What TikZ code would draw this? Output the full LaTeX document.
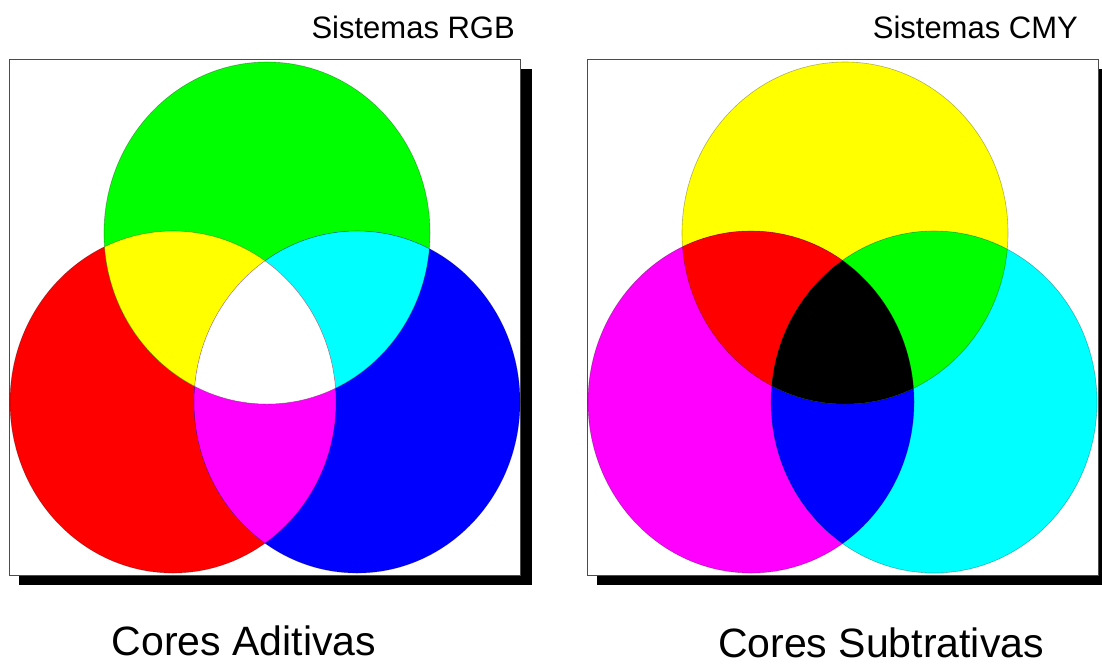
\documentclass[tikz,border=0pt]{standalone}
\usepackage{fontspec}
\setmainfont{Liberation Sans}
\usepackage{tikz}

% pure screen colours
\definecolor{pred}{RGB}{255,0,0}
\definecolor{pgreen}{RGB}{0,255,0}
\definecolor{pblue}{RGB}{0,0,255}
\definecolor{pcyan}{RGB}{0,255,255}
\definecolor{pmagenta}{RGB}{255,0,255}
\definecolor{pyellow}{RGB}{255,255,0}

\begin{document}
\begin{tikzpicture}[
  x=1pt, y=-1pt,
  frame/.style={draw=black!70, line width=1pt, fill=white},
  shadow/.style={fill=black},
  disc/.style={draw=black, draw opacity=0.3, line width=0.6pt},
  blob/.style={x radius=163pt, y radius=171pt},
  title/.style={font=\fontsize{31}{36}\selectfont, anchor=base east, inner sep=0pt},
  caption/.style={font=\fontsize{41}{48}\selectfont, anchor=base, inner sep=0pt}
]
  \useasboundingbox (0,0) rectangle (1102,665);

  % Frames with drop shadow
  \fill[shadow] (19,69) rectangle (532,585);
  \draw[frame] (9,59) rectangle (520,575);
  \fill[shadow] (597,69) rectangle (1110,585);
  \draw[frame] (587,59) rectangle (1098,575);

  % Circle centres
  \coordinate (g) at (267,233);
  \coordinate (r) at (173,402);
  \coordinate (b) at (357,402);
  \coordinate (y) at (845,233);
  \coordinate (m) at (751,402);
  \coordinate (c) at (934,402);

  % Additive mixing
  \fill[pred] (r) ellipse[blob];
  \fill[pgreen] (g) ellipse[blob];
  \fill[pblue] (b) ellipse[blob];
  \begin{scope}
    \clip (g) ellipse[blob];
    \fill[pcyan] (b) ellipse[blob];
  \end{scope}
  \begin{scope}
    \clip (r) ellipse[blob];
    \fill[pyellow] (g) ellipse[blob];
    \fill[pmagenta] (b) ellipse[blob];
    \clip (g) ellipse[blob];
    \fill[white] (b) ellipse[blob];
  \end{scope}
  \draw[disc] (r) ellipse[blob] (g) ellipse[blob] (b) ellipse[blob];

  % Subtractive mixing
  \fill[pyellow] (y) ellipse[blob];
  \fill[pmagenta] (m) ellipse[blob];
  \fill[pcyan] (c) ellipse[blob];
  \begin{scope}
    \clip (m) ellipse[blob];
    \fill[pblue] (c) ellipse[blob];
  \end{scope}
  \begin{scope}
    \clip (y) ellipse[blob];
    \fill[pred] (m) ellipse[blob];
    \fill[pgreen] (c) ellipse[blob];
    \clip (m) ellipse[blob];
    \fill[black] (c) ellipse[blob];
  \end{scope}
  \draw[disc] (y) ellipse[blob] (m) ellipse[blob] (c) ellipse[blob];

  % Labels
  \node[title] (rgb) at (515,38) {Sistemas RGB};
  \node[title] (cmy) at (1078,38) {Sistemas CMY};
  \node[caption] (add) at (244,655) {Cores Aditivas};
  \node[caption] (sub) at (881,657) {Cores Subtrativas};
\end{tikzpicture}
\end{document}
